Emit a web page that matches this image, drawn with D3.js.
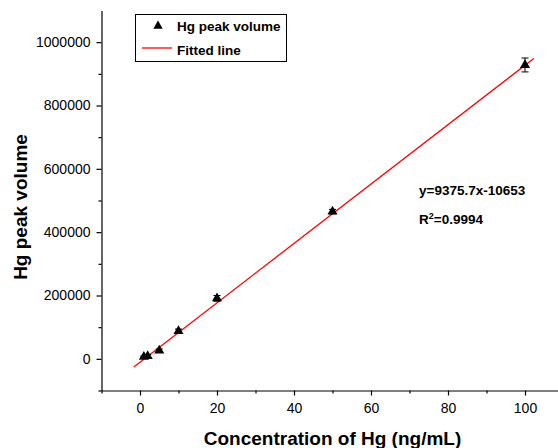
<!DOCTYPE html>
<html>
  <head>
    <script src="https://d3js.org/d3.v7.min.js"></script>
    <style>
      body, html {
        margin: 0;
        background: #fff;
        font-family: 'Liberation Sans', Arial, sans-serif;
      }
      .axis path, .axis line {
        stroke: #000;
        stroke-width: 1.2px;
      }
      .axis text {
        font-family: 'Liberation Sans', Arial, sans-serif;
        font-size: 14px;
        fill: #000;
      }
      .bold {
        font-weight: bold;
        fill: #000;
      }
    </style>
  </head>
  <body>
    <div id="chart"></div>
    <script>
      // measured points
      var concentrations = [1, 2, 5, 10, 20, 50, 100];
      var peakVolumes = [6000, 9000, 26000, 88000, 191000, 465000, 928000];
      var errors = [3000, 4000, 5000, 6000, 9000, 7000, 22000];

      // linear fit
      var slope = 9375.7;
      var intercept = -10653;
      var fitRange = [-1.6, 102.3];

      var xTicks = [0, 20, 40, 60, 80, 100];
      var xMinor = [-10, 10, 30, 50, 70, 90];
      var yTicks = [0, 200000, 400000, 600000, 800000, 1000000];
      var yMinor = [-100000, 100000, 300000, 500000, 700000, 900000];

      var width = 558, height = 448;
      var margin = {left: 101.5, top: 10.5, right: -5.5, bottom: 57.5};

      var svg = d3.select("#chart")
        .append("svg")
        .attr("width", width)
        .attr("height", height);

      var x = d3.scaleLinear()
        .domain([-10, 110])
        .range([margin.left, width - margin.right]);
      var y = d3.scaleLinear()
        .domain([-100000, 1100000])
        .range([height - margin.bottom, margin.top]);

      // axes
      svg.append("g")
        .attr("class", "axis")
        .attr("transform", "translate(0," + (height - margin.bottom) + ")")
        .call(d3.axisBottom(x).tickValues(xTicks).tickSize(5).tickSizeOuter(0).tickPadding(8).tickFormat(d3.format("d")));
      svg.append("g")
        .attr("class", "axis")
        .attr("transform", "translate(0," + (height - margin.bottom) + ")")
        .call(d3.axisBottom(x).tickValues(xMinor).tickSize(3).tickSizeOuter(0).tickFormat(""))
        .select(".domain").remove();

      svg.append("g")
        .attr("class", "axis")
        .attr("transform", "translate(" + margin.left + ",0)")
        .call(d3.axisLeft(y).tickValues(yTicks).tickSize(5).tickSizeOuter(0).tickPadding(6).tickFormat(d3.format("d")));
      svg.append("g")
        .attr("class", "axis")
        .attr("transform", "translate(" + margin.left + ",0)")
        .call(d3.axisLeft(y).tickValues(yMinor).tickSize(3).tickSizeOuter(0).tickFormat(""))
        .select(".domain").remove();

      // axis titles
      svg.append("text")
        .attr("class", "bold")
        .attr("x", x(50))
        .attr("y", 445)
        .attr("text-anchor", "middle")
        .style("font-size", "19px")
        .text("Concentration of Hg (ng/mL)");
      svg.append("text")
        .attr("class", "bold")
        .attr("transform", "translate(27," + 207 + ") rotate(-90)")
        .attr("text-anchor", "middle")
        .style("font-size", "19px")
        .text("Hg peak volume");

      // fitted line
      svg.append("line")
        .attr("x1", x(fitRange[0]))
        .attr("y1", y(slope * fitRange[0] + intercept))
        .attr("x2", x(fitRange[1]))
        .attr("y2", y(slope * fitRange[1] + intercept))
        .attr("stroke", "#ff0000")
        .attr("stroke-width", 1.3);

      var points = concentrations.map((c, i) => ({c: c, v: peakVolumes[i], e: errors[i]}));

      // error bars
      var bars = svg.append("g").attr("stroke", "#000").attr("stroke-width", 1);
      points.forEach(d => {
        bars.append("line")
          .attr("x1", x(d.c)).attr("x2", x(d.c))
          .attr("y1", y(d.v - d.e)).attr("y2", y(d.v + d.e));
        [d.v - d.e, d.v + d.e].forEach(v => {
          bars.append("line")
            .attr("x1", x(d.c) - 3.5).attr("x2", x(d.c) + 3.5)
            .attr("y1", y(v)).attr("y2", y(v));
        });
      });

      var triangle = d3.symbol().type(d3.symbolTriangle).size(44);
      svg.append("g").selectAll("path")
        .data(points)
        .enter()
        .append("path")
          .attr("d", triangle)
          .attr("transform", d => "translate(" + x(d.c) + "," + y(d.v) + ")")
          .attr("fill", "#000");

      // legend
      var legend = svg.append("g");
      legend.append("rect")
        .attr("x", 135.5).attr("y", 14.5)
        .attr("width", 151).attr("height", 47)
        .attr("fill", "#fff").attr("stroke", "#000").attr("stroke-width", 1);
      legend.append("path")
        .attr("d", d3.symbol().type(d3.symbolTriangle).size(38))
        .attr("transform", "translate(158,26)")
        .attr("fill", "#000");
      legend.append("line")
        .attr("x1", 142).attr("x2", 172)
        .attr("y1", 48).attr("y2", 48)
        .attr("stroke", "#ff0000").attr("stroke-width", 1.3);
      legend.append("text")
        .attr("class", "bold")
        .attr("x", 177).attr("y", 31)
        .style("font-size", "13.5px")
        .text("Hg peak volume");
      legend.append("text")
        .attr("class", "bold")
        .attr("x", 177).attr("y", 55)
        .style("font-size", "13.5px")
        .text("Fitted line");

      // equation
      svg.append("text")
        .attr("class", "bold")
        .attr("x", 419).attr("y", 195)
        .style("font-size", "13.5px")
        .text("y=" + slope + "x" + intercept);
      var r2 = svg.append("text")
        .attr("class", "bold")
        .attr("x", 419).attr("y", 224)
        .style("font-size", "13.5px");
      r2.append("tspan").text("R");
      r2.append("tspan").attr("dy", -5).style("font-size", "9px").text("2");
      r2.append("tspan").attr("dy", 5).text("=0.9994");
    </script>
  </body>
</html>
